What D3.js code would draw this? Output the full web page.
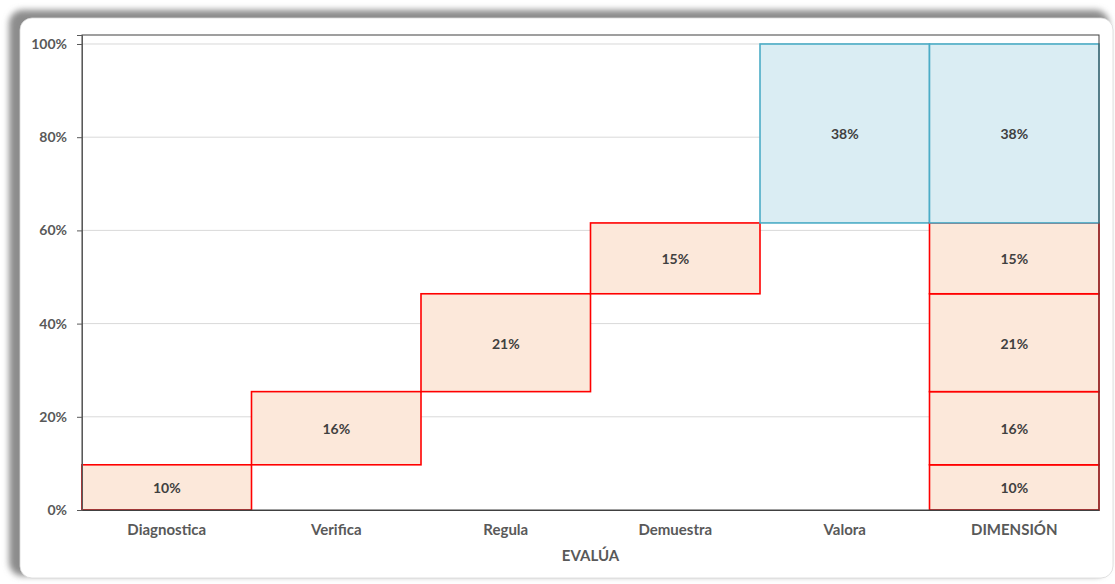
<!DOCTYPE html>
<meta charset="utf-8">
<script src="https://d3js.org/d3.v7.min.js"></script>
<style>
body { margin: 0; background: #fff; font-family: Lato, "Noto Sans", sans-serif; }
</style>
<div id="chart"></div>
<script>

// categories and the step values of the waterfall
var categories = ["Diagnostica", "Verifica", "Regula", "Demuestra", "Valora", "DIMENSIÓN"];
var steps = [0.097, 0.157, 0.21, 0.152, 0.384];
var stepLabels = ["10%", "16%", "21%", "15%", "38%"];
var yTicks = [0, 0.2, 0.4, 0.6, 0.8, 1.0];

var W = 1115, H = 584;
var margin = {top: 35, right: 16, bottom: 74, left: 82};
var width = W - margin.left - margin.right,
    height = H - margin.top - margin.bottom;

var svg = d3.select("#chart").append("svg")
  .attr("width", W).attr("height", H);

// card with shadow to the top-left
var defs = svg.append("defs");
var f = defs.append("filter").attr("id", "blur").attr("x", "-5%").attr("y", "-5%").attr("width", "110%").attr("height", "110%");
f.append("feGaussianBlur").attr("stdDeviation", 3);

svg.append("rect")
  .attr("x", 9).attr("y", 10).attr("width", 1100).attr("height", 566)
  .attr("rx", 14).attr("fill", "#8c8c8c").attr("filter", "url(#blur)");
svg.append("rect")
  .attr("x", 20).attr("y", 18).attr("width", 1093).attr("height", 560)
  .attr("rx", 12).attr("fill", "#fff").attr("stroke", "#d9d9d9").attr("stroke-width", 0.8);

var g = svg.append("g")
  .attr("transform", "translate(" + margin.left + "," + margin.top + ")");

var x = d3.scaleBand().domain(categories).range([0, width]).padding(0);
var y = d3.scaleLinear().domain([0, 1.0193]).range([height, 0]);

// gridlines
g.append("g").selectAll("line")
  .data(yTicks.slice(1))
  .enter().append("line")
    .attr("x1", 0).attr("x2", width)
    .attr("y1", function(d) { return y(d); })
    .attr("y2", function(d) { return y(d); })
    .attr("stroke", "#d9d9d9").attr("stroke-width", 1);

// build the waterfall pieces
var pieces = [];
var cum = 0;
steps.forEach(function(v, i) {
  pieces.push({cat: categories[i], lo: cum, hi: cum + v, label: stepLabels[i], total: i === steps.length - 1});
  cum += v;
});
var cum2 = 0;
steps.forEach(function(v, i) {
  pieces.push({cat: categories[5], lo: cum2, hi: cum2 + v, label: stepLabels[i], total: i === steps.length - 1});
  cum2 += v;
});

var bars = g.append("g").selectAll("g")
  .data(pieces).enter().append("g");

bars.append("rect")
  .attr("x", function(d) { return x(d.cat); })
  .attr("width", x.bandwidth())
  .attr("y", function(d) { return y(d.hi); })
  .attr("height", function(d) { return y(d.lo) - y(d.hi); })
  .attr("fill", function(d) { return d.total ? "#daedf3" : "#fce8da"; })
  .attr("stroke", function(d) { return d.total ? "#4bacc6" : "#ff0000"; })
  .attr("stroke-width", 1.6);

bars.append("text")
  .attr("x", function(d) { return x(d.cat) + x.bandwidth() / 2; })
  .attr("y", function(d) { return (y(d.lo) + y(d.hi)) / 2 + 6; })
  .attr("text-anchor", "middle")
  .attr("font-size", 14).attr("font-weight", "bold")
  .attr("fill", "#404040")
  .text(function(d) { return d.label; });

// plot border
g.append("rect")
  .attr("x", 0).attr("y", 0).attr("width", width).attr("height", height)
  .attr("fill", "none").attr("stroke", "#404040").attr("stroke-width", 1);

// y axis
var yAxis = g.append("g")
  .call(d3.axisLeft(y).tickValues(yTicks).tickFormat(d3.format(".0%")).tickSize(5).tickPadding(10));
yAxis.select(".domain").attr("stroke", "#595959");
yAxis.selectAll(".tick line").attr("stroke", "#595959");
yAxis.selectAll("text").attr("font-family", "Lato, sans-serif").attr("font-size", 14)
  .attr("font-weight", "bold").attr("fill", "#595959");

// x axis
var xAxis = g.append("g")
  .attr("transform", "translate(0," + height + ")")
  .call(d3.axisBottom(x).tickSize(0).tickPadding(14));
xAxis.select(".domain").attr("stroke", "#404040");
xAxis.selectAll("text").attr("font-family", "Lato, sans-serif").attr("font-size", 15)
  .attr("font-weight", "bold").attr("fill", "#595959");

g.append("text")
  .attr("x", width / 2).attr("y", height + 51)
  .attr("text-anchor", "middle")
  .attr("font-size", 15).attr("font-weight", "bold").attr("fill", "#595959")
  .text("EVALÚA");

</script>
